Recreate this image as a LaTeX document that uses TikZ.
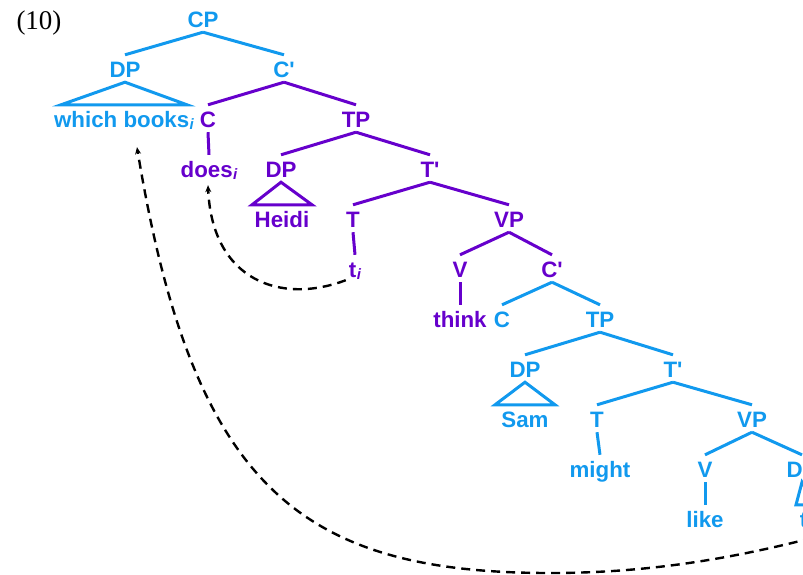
\documentclass[tikz,border=0pt]{standalone}
\usepackage{fontspec}
\setmainfont{Liberation Sans}
\newfontfamily\numfont{Liberation Serif}
\usetikzlibrary{calc,arrows.meta}
\definecolor{tb}{HTML}{1199EE}
\definecolor{tp}{HTML}{6600CC}
\newcommand\subi{\kern0.5pt\raisebox{-2pt}{\fontsize{15}{15}\selectfont\itshape i}}
\newcommand\pr{\textquotesingle}
\begin{document}
\begin{tikzpicture}[x=1pt,y=-1pt,
  lab/.style={font=\fontsize{22.3}{23}\selectfont\bfseries, inner xsep=2pt, inner ysep=5pt,
              text height=17pt, text depth=0pt, anchor=base},
  bl/.style={lab, text=tb},
  pu/.style={lab, text=tp},
  eb/.style={draw=tb, line width=3pt},
  ep/.style={draw=tp, line width=3pt},
  mv/.style={draw=black, line width=2.4pt, dash pattern=on 9pt off 6pt,
             -{Stealth[length=7pt,width=6pt]}}]
\useasboundingbox (0,0) rectangle (803,574);
\clip (0,0) rectangle (803,574);

\node[font=\numfont\fontsize{27}{27}\selectfont, anchor=base, inner sep=0pt] (num) at (39,29) {(10)};

% nodes
\node[bl] (CP)  at (203,27) {CP};
\node[bl] (DPa) at (125,77) {DP};
\node[bl] (Cpa) at (284,77) {C\pr};
\node[bl] (wb)  at (124,127) {which books\subi};
\node[pu] (Ca)  at (208,127) {C};
\node[pu] (TPa) at (356,127) {TP};
\node[pu] (does) at (209,177) {does\subi};
\node[pu] (DPb) at (281,177) {DP};
\node[pu] (Tpa) at (430,177) {T\pr};
\node[pu] (heidi) at (282,227) {Heidi};
\node[pu] (Ta)  at (353,227) {T};
\node[pu] (VPa) at (509,227) {VP};
\node[pu] (tia) at (355,277) {t\subi};
\node[pu] (Va)  at (460,277) {V};
\node[pu] (Cpb) at (552,277) {C\pr};
\node[pu] (think) at (460,327) {think};
\node[bl] (Cb)  at (502,327) {C};
\node[bl] (TPb) at (600,327) {TP};
\node[bl] (DPc) at (525,377) {DP};
\node[bl] (Tpb) at (673,377) {T\pr};
\node[bl] (sam) at (525,427) {Sam};
\node[bl] (Tb)  at (597,427) {T};
\node[bl] (VPb) at (752,427) {VP};
\node[bl] (might) at (600,477) {might};
\node[bl] (Vb)  at (705,477) {V};
\node[bl] (DPd) at (802,477) {DP};
\node[bl] (like) at (705,527) {like};
\node[bl] (tib) at (806,527) {t\subi};

% edges
\draw[eb] (CP.south) -- (DPa.north);
\draw[eb] (CP.south) -- (Cpa.north);
\draw[eb] (DPa.south) -- ($(wb.north)+(-63,0)$) -- ($(wb.north)+(63,0)$) -- cycle;
\draw[ep] (Cpa.south) -- (Ca.north);
\draw[ep] (Cpa.south) -- (TPa.north);
\draw[ep] (Ca.south) -- (does.north);
\draw[ep] (TPa.south) -- (DPb.north);
\draw[ep] (TPa.south) -- (Tpa.north);
\draw[ep] (DPb.south) -- ($(heidi.north)+(-30,0)$) -- ($(heidi.north)+(30,0)$) -- cycle;
\draw[ep] (Tpa.south) -- (Ta.north);
\draw[ep] (Tpa.south) -- (VPa.north);
\draw[ep] (Ta.south) -- (tia.north);
\draw[ep] (VPa.south) -- (Va.north);
\draw[ep] (VPa.south) -- (Cpb.north);
\draw[ep] (Va.south) -- (think.north);
\draw[eb] (Cpb.south) -- (Cb.north);
\draw[eb] (Cpb.south) -- (TPb.north);
\draw[eb] (TPb.south) -- (DPc.north);
\draw[eb] (TPb.south) -- (Tpb.north);
\draw[eb] (DPc.south) -- ($(sam.north)+(-30,0)$) -- ($(sam.north)+(30,0)$) -- cycle;
\draw[eb] (Tpb.south) -- (Tb.north);
\draw[eb] (Tpb.south) -- (VPb.north);
\draw[eb] (Tb.south) -- (might.north);
\draw[eb] (VPb.south) -- (Vb.north);
\draw[eb] (VPb.south) -- (DPd.north);
\draw[eb] (Vb.south) -- (like.north);
\draw[eb] (DPd.south) -- ($(tib.north)+(-10,0)$) -- ($(tib.north)+(10,0)$) -- cycle;

% movement arrows
\coordinate (mvstart) at (812,538);
\coordinate (mvlow) at (550,573);
\draw[mv] ($(tia.south west)+(-1,-2)$) .. controls (280,305) and (212,280) .. ($(does.south)+(-1,3)$);
\draw[mv] (mvstart) .. controls (722,561) and (640,573) .. (mvlow)
          .. controls (300,573) and (193,487) .. ($(wb.south)+(13,15)$);
\end{tikzpicture}
\end{document}
